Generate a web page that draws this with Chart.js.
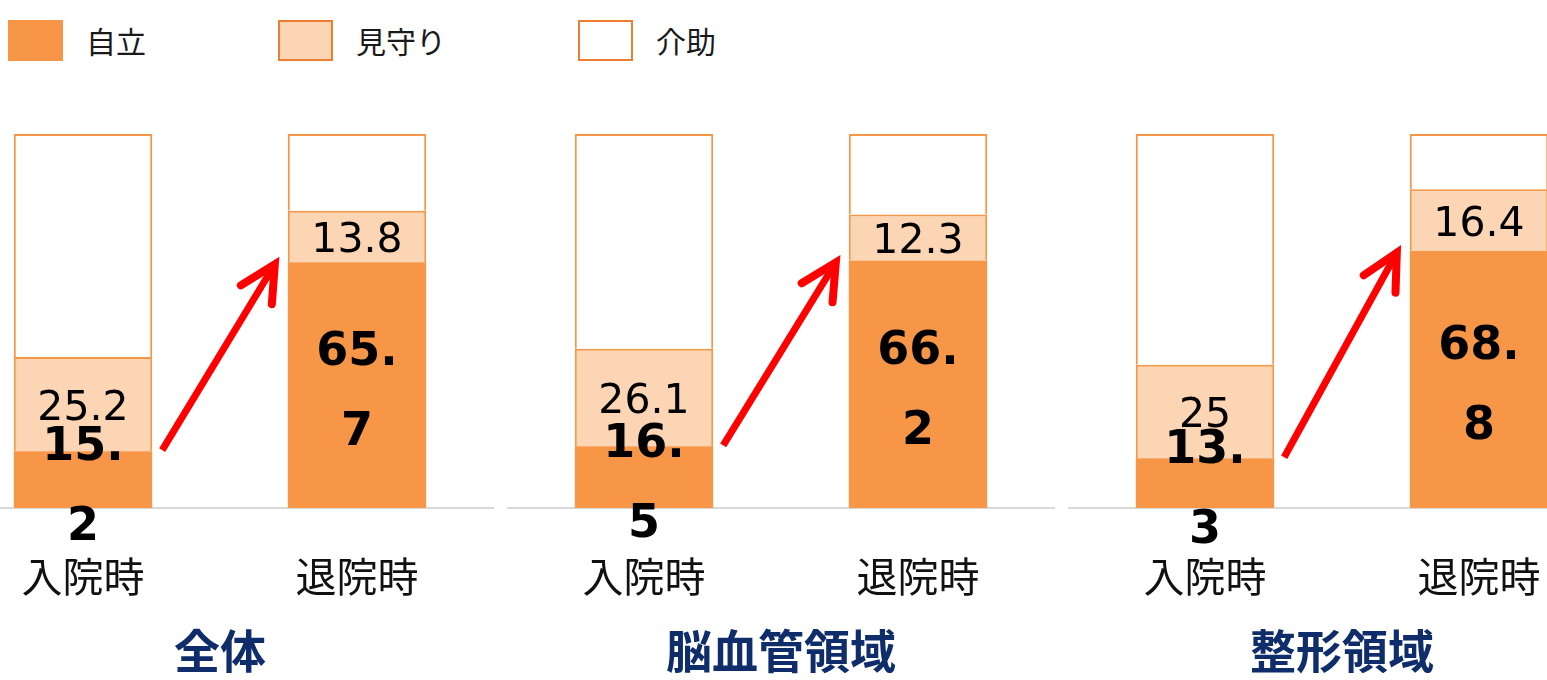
<!DOCTYPE html>
<html lang="ja">
<head>
<meta charset="utf-8">
<title>入院時・退院時の自立度</title>
<script src="https://cdn.jsdelivr.net/npm/chart.js@4.4.1/dist/chart.umd.min.js"></script>
<style>
  html, body { margin: 0; padding: 0; background: #fff; }
  body { position: relative; width: 1547px; height: 680px; overflow: hidden; font-family: "Noto Sans CJK JP", sans-serif; }
  #legend { position: absolute; left: 8px; top: 20px; display: flex; align-items: center; }
  .item { display: flex; align-items: center; margin-right: 132px; font-size: 30px; line-height: 41px; color: #1a1a1a; }
  .box { width: 55px; height: 41px; box-sizing: border-box; margin-right: 23px; border: 2px solid; }
  .panel { position: absolute; top: 0; width: 548px; height: 680px; }
</style>
</head>
<body>
<div id="legend"></div>
<div class="panel" style="left:-54px"><canvas id="chart0"></canvas></div>
<div class="panel" style="left:507px"><canvas id="chart1"></canvas></div>
<div class="panel" style="left:1068px"><canvas id="chart2"></canvas></div>
<script>
const groups = ['全体', '脳血管領域', '整形領域'];
const timings = ['入院時', '退院時'];
const series = ['自立', '見守り', '介助'];

// % per group, [入院時, 退院時]
const jiritsu = [[15.2, 65.7], [16.5, 66.2], [13.3, 68.8]];
const mimamori = [[25.2, 13.8], [26.1, 12.3], [25, 16.4]];
const kaijo = [[59.6, 20.5], [57.4, 21.5], [61.7, 14.8]];

const ORANGE = '#F79646';
const PEACH = '#FCD5B5';
const JP = '"Noto Sans CJK JP", "Noto Sans", sans-serif';

const fills = [ORANGE, PEACH, '#FFFFFF'];
const legendBorders = [ORANGE, '#ED7D31', '#ED7D31'];

// legend row
const legendEl = document.getElementById('legend');
series.forEach((name, i) => {
  const item = document.createElement('div');
  item.className = 'item';
  const box = document.createElement('span');
  box.className = 'box';
  box.style.background = fills[i];
  box.style.borderColor = legendBorders[i];
  item.appendChild(box);
  item.appendChild(document.createTextNode(name));
  legendEl.appendChild(item);
});

// numbers inside the segments; 自立 is bold and wraps after the point
const valueLabels = {
  id: 'valueLabels',
  afterDatasetsDraw(chart) {
    const ctx = chart.ctx;
    ctx.save();
    ctx.textAlign = 'center';
    ctx.textBaseline = 'middle';
    ctx.fillStyle = '#000';
    [1, 0].forEach(di => {
      const values = chart.data.datasets[di].data;
      chart.getDatasetMeta(di).data.forEach((bar, i) => {
        const {x, y, base} = bar.getProps(['x', 'y', 'base'], true);
        const mid = (y + base) / 2;
        const text = String(values[i]);
        if (di === 0) {
          ctx.font = 'bold 46px "DejaVu Sans"';
          const cut = text.indexOf('.') + 1;
          const lines = cut > 0 ? [text.slice(0, cut), text.slice(cut)] : [text];
          lines.forEach((s, k) => ctx.fillText(s, x, mid + 8 + (k - (lines.length - 1) / 2) * 80));
        } else {
          ctx.font = '41px "DejaVu Sans"';
          ctx.fillText(text, x, mid + 5);
        }
      });
    });
    ctx.restore();
  }
};

// red arrow from the admission bar up to the discharge bar
const riseArrow = {
  id: 'riseArrow',
  afterDatasetsDraw(chart) {
    const bars = chart.getDatasetMeta(0).data;
    const a = bars[0].getProps(['x', 'y', 'width'], true);
    const b = bars[1].getProps(['x', 'y', 'width'], true);
    const x0 = a.x + a.width / 2 + 10, y0 = a.y - 1;
    const x1 = b.x - b.width / 2 - 13, y1 = b.y + 2;
    const ang = Math.atan2(y1 - y0, x1 - x0);
    const ctx = chart.ctx;
    ctx.save();
    ctx.strokeStyle = '#FF0000';
    ctx.lineWidth = 7;
    ctx.lineCap = 'butt';
    ctx.beginPath();
    ctx.moveTo(x0, y0);
    ctx.lineTo(x1 - 4 * Math.cos(ang), y1 - 4 * Math.sin(ang));
    ctx.stroke();
    const len = 40, spread = 0.47;
    ctx.lineWidth = 8;
    ctx.lineCap = 'round';
    ctx.lineJoin = 'miter';
    ctx.beginPath();
    ctx.moveTo(x1 - len * Math.cos(ang - spread), y1 - len * Math.sin(ang - spread));
    ctx.lineTo(x1, y1);
    ctx.lineTo(x1 - len * Math.cos(ang + spread), y1 - len * Math.sin(ang + spread));
    ctx.stroke();
    ctx.restore();
  }
};

groups.forEach((group, g) => {
  new Chart(document.getElementById('chart' + g), {
    type: 'bar',
    data: {
      labels: timings,
      datasets: [
        { label: series[0], data: jiritsu[g], backgroundColor: fills[0], borderWidth: 0 },
        { label: series[1], data: mimamori[g], backgroundColor: fills[1], borderColor: ORANGE, borderWidth: 2, borderSkipped: 'bottom' },
        { label: series[2], data: kaijo[g], backgroundColor: fills[2], borderColor: ORANGE, borderWidth: 2, borderSkipped: 'bottom' }
      ]
    },
    options: {
      responsive: true,
      maintainAspectRatio: false,
      animation: false,
      layout: { padding: { top: 134, left: 0, right: 0, bottom: 0 } },
      datasets: { bar: { barPercentage: 0.505, categoryPercentage: 1 } },
      plugins: {
        legend: { display: false },
        tooltip: { enabled: false }
      },
      scales: {
        x: {
          stacked: true,
          grid: { display: false, drawTicks: false },
          border: { color: '#D9D9D9', width: 2 },
          ticks: { padding: 48, color: '#111', font: { family: JP, size: 41, lineHeight: 1 } },
          title: {
            display: true,
            text: group,
            color: '#0F2D6B',
            font: { family: JP, size: 46, weight: 'bold', lineHeight: 1 },
            padding: { top: 0, bottom: 6 }
          },
          afterFit(scale) { scale.height = 172; }
        },
        y: { stacked: true, display: false, min: 0, max: 100 }
      }
    },
    plugins: [valueLabels, riseArrow]
  });
});
</script>
</body>
</html>
